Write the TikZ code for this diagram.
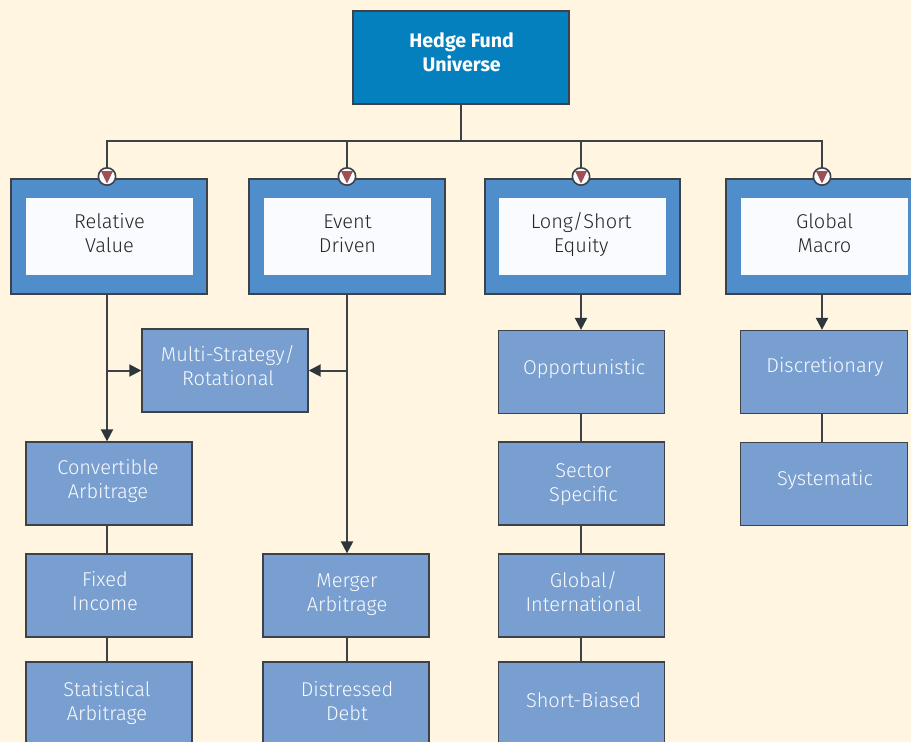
\documentclass[tikz,border=0pt]{standalone}
\usepackage{fontspec}
\setmainfont{Fira Sans}
\newfontfamily\lightfont{Fira Sans Light}
\usetikzlibrary{arrows.meta,positioning}
\definecolor{paper}{HTML}{FFF5E1}
\definecolor{linegrey}{HTML}{3C4247}
\definecolor{tipgrey}{HTML}{2F363B}
\definecolor{topblue}{HTML}{0580BE}
\definecolor{catblue}{HTML}{4F8ECB}
\definecolor{subblue}{HTML}{789FCF}
\definecolor{inner}{HTML}{FAFBFE}
\definecolor{marker}{HTML}{A04F52}
\tikzset{
  % baseline of the last text line, in pixels below the centre of the box
  drop/.style={text height=#1*1.5pt,text depth=0pt},
  topbox/.style={draw=linegrey,line width=1.5pt,fill=topblue,text=white,font=\fontsize{14.7}{18}\selectfont\bfseries,align=center,minimum width=162pt,minimum height=69.5pt,inner sep=0pt},
  catbox/.style={draw=linegrey,line width=1.5pt,fill=catblue,minimum width=146.5pt,minimum height=86pt,inner sep=0pt},
  catlabel/.style={fill=inner,text=black!85,font=\lightfont\fontsize{15}{18}\selectfont,align=center,minimum width=125.5pt,minimum height=58pt,inner sep=0pt},
  subbox/.style={draw=linegrey,line width=1.2pt,fill=subblue,text=inner,font=\lightfont\fontsize{15}{18}\selectfont,align=center,minimum width=124.4pt,minimum height=62pt,inner sep=0pt},
  link/.style={draw=linegrey,line width=1.5pt},
  arrow/.style={link,-{Triangle[length=9pt,width=9pt,color=tipgrey]}},
  dot/.style={circle,draw=linegrey,line width=1.2pt,fill=inner,minimum size=13pt,inner sep=0pt},
}
\begin{document}
\begin{tikzpicture}[x=0.75pt,y=-0.75pt]
  \useasboundingbox (0,0) rectangle (911,742);
  \clip (0,0) rectangle (911,742);
  \fill[paper] (0,0) rectangle (911,742);

  % top of the tree
  \node[topbox,drop=14.5] (universe) at (461,57.5) {\hspace*{1pt}Hedge Fund\\\hspace*{1pt}Universe};
  \coordinate (bar) at (461,141);

  % four strategy groups
  \node[catbox] (relative) at (109,236.5) {};
  \node[catlabel,drop=16] (relativelabel) at (109.5,236.5) {Relative\\Value};
  \node[catbox] (event) at (347,236.5) {};
  \node[catlabel,drop=16] (eventlabel) at (347.5,236.5) {Event\\Driven};
  \node[catbox] (longshort) at (582.5,236.5) {};
  \node[catlabel,drop=16] (longshortlabel) at (582.5,236.5) {Long/Short\hspace*{2pt}\\Equity\hspace*{2pt}};
  \node[catbox] (macro) at (824,236.5) {};
  \node[catlabel,drop=16] (macrolabel) at (824.5,236.5) {Global\\Macro};

  % substrategies
  \node[subbox,drop=15] (multi) at (225,370.5) {\hspace*{4.5pt}Multi-Strategy/\\\hspace*{4.5pt}Rotational};
  \node[subbox,drop=14.5] (convertible) at (109,483.5) {Convertible\hspace*{1.5pt}\\Arbitrage\hspace*{1.5pt}};
  \node[subbox,drop=14.5] (fixed) at (109,595.5) {Fixed\hspace*{6pt}\\Income\hspace*{6pt}};
  \node[subbox,drop=16.5] (statistical) at (109,703.5) {Statistical\hspace*{3pt}\\Arbitrage\hspace*{3pt}};
  \node[subbox,drop=15.5] (merger) at (346,595.5) {\hspace*{1.5pt}Merger\\\hspace*{1.5pt}Arbitrage};
  \node[subbox,drop=16.5] (distressed) at (346,703.5) {\hspace*{1.5pt}Distressed\\\hspace*{1.5pt}Debt};
  \node[subbox,drop=2] (opportunistic) at (581.5,372) {\hspace*{4pt}Opportunistic};
  \node[subbox,drop=17.5] (sector) at (581.5,483.5) {\hspace*{3pt}Sector\\\hspace*{3pt}Specific};
  \node[subbox,drop=15.5] (global) at (581.5,595.5) {\hspace*{3pt}Global/\\\hspace*{3pt}International};
  \node[subbox,drop=3.5] (short) at (581.5,703.5) {\hspace*{3pt}Short-Biased};
  \node[subbox,drop=0.5,minimum width=125.5pt] (discretionary) at (824,372) {\hspace*{1.5pt}Discretionary};
  \node[subbox,drop=1,minimum width=125.5pt] (systematic) at (824,484) {\hspace*{1.5pt}Systematic};

  % connectors
  \coordinate (rv) at (107,176.5);
  \coordinate (ed) at (347,176.5);
  \coordinate (ls) at (581,176.5);
  \coordinate (gm) at (822,176.5);
  \draw[link] (universe.south) -- (universe.south |- bar);
  \draw[link] (rv) -- (rv |- bar) -- (gm |- bar) -- (gm);
  \draw[link] (ed) -- (ed |- bar);
  \draw[link] (ls) -- (ls |- bar);
  \foreach \p in {rv,ed,ls,gm} {
    \node[dot] (\p dot) at (\p) {};
    \fill[marker] (\p) ++(-6,-5.5) -- ++(12,0) -- ++(-6,12.5) -- cycle;
  }
  \coordinate (rvout) at (107,294);
  \coordinate (edout) at (347,294);
  \coordinate (lsout) at (581,294);
  \coordinate (gmout) at (822,294);
  \draw[arrow] (rvout) -- (rvout |- convertible.north);
  \draw[arrow] (edout) -- (edout |- merger.north);
  \draw[arrow] (lsout) -- (lsout |- opportunistic.north);
  \draw[arrow] (gmout) -- (gmout |- discretionary.north);
  \draw[arrow] (rvout |- multi.west) -- (multi.west);
  \draw[arrow] (edout |- multi.east) -- (multi.east);
  \draw[link] (convertible.south -| rvout) -- (fixed.north -| rvout);
  \draw[link] (fixed.south -| rvout) -- (statistical.north -| rvout);
  \draw[link] (merger.south -| edout) -- (distressed.north -| edout);
  \draw[link] (opportunistic.south -| lsout) -- (sector.north -| lsout);
  \draw[link] (sector.south -| lsout) -- (global.north -| lsout);
  \draw[link] (global.south -| lsout) -- (short.north -| lsout);
  \draw[link] (discretionary.south -| gmout) -- (systematic.north -| gmout);
\end{tikzpicture}
\end{document}
